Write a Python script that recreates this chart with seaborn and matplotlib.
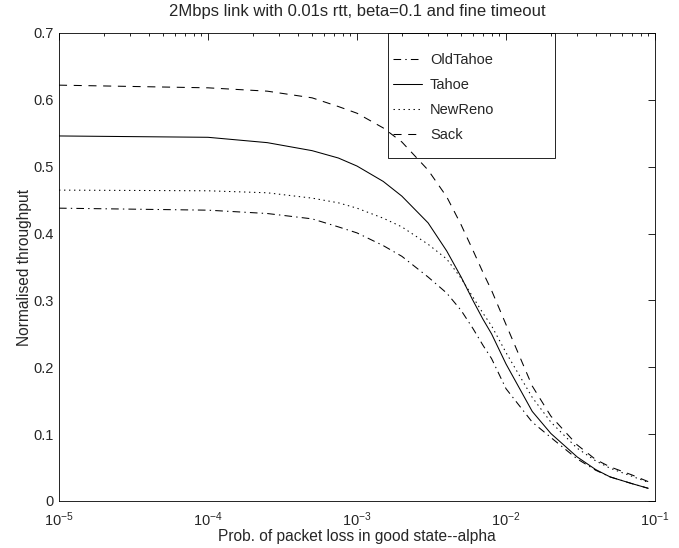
import matplotlib
matplotlib.use("Agg")
import matplotlib.pyplot as plt
from matplotlib.ticker import FuncFormatter, LogLocator, FixedLocator
from matplotlib.patches import Rectangle
import seaborn as sns

# ---- data ----
alpha = [1e-5, 1e-4, 2.5e-4, 5e-4, 7.5e-4, 1e-3, 1.5e-3, 2e-3, 3e-3, 4e-3, 5e-3,
         6e-3, 7e-3, 8e-3, 1e-2, 1.5e-2, 2e-2, 3e-2, 4e-2, 5e-2, 7e-2, 9e-2]
oldtahoe = [0.438, 0.435, 0.430, 0.422, 0.410, 0.401, 0.382, 0.366, 0.335, 0.311, 0.285,
            0.258, 0.233, 0.213, 0.168, 0.118, 0.095, 0.063, 0.046, 0.036, 0.026, 0.019]
tahoe = [0.546, 0.544, 0.536, 0.524, 0.513, 0.501, 0.478, 0.456, 0.416, 0.374, 0.335,
         0.300, 0.272, 0.250, 0.205, 0.134, 0.101, 0.066, 0.047, 0.036, 0.026, 0.019]
newreno = [0.465, 0.464, 0.461, 0.453, 0.446, 0.438, 0.423, 0.410, 0.384, 0.362, 0.333,
           0.305, 0.281, 0.262, 0.222, 0.155, 0.118, 0.079, 0.060, 0.049, 0.037, 0.028]
sack = [0.622, 0.618, 0.613, 0.603, 0.590, 0.580, 0.558, 0.537, 0.495, 0.455, 0.413,
        0.375, 0.342, 0.315, 0.264, 0.172, 0.127, 0.084, 0.062, 0.051, 0.039, 0.029]
series_names = ["OldTahoe", "Tahoe", "NewReno", "Sack"]
yticks = [0, 0.1, 0.2, 0.3, 0.4, 0.5, 0.6, 0.7]
title = "2Mbps link with 0.01s rtt, beta=0.1 and fine timeout"
xlabel = "Prob. of packet loss in good state--alpha"
ylabel = "Normalised throughput"

# ---- style ----
sns.set_style("white")
plt.rcParams["font.family"] = ["Liberation Sans", "DejaVu Sans"]
plt.rcParams["mathtext.fontset"] = "custom"
plt.rcParams["mathtext.rm"] = "Liberation Sans"
plt.rcParams["mathtext.it"] = "Liberation Sans:italic"
plt.rcParams["mathtext.bf"] = "Liberation Sans:bold"
plt.rcParams["lines.scale_dashes"] = False

styles = {
    "OldTahoe": (0, (5.5, 3.0, 1.0, 3.0)),
    "Tahoe": "-",
    "NewReno": (0, (1.0, 2.6)),
    "Sack": (0, (5.8, 4.8)),
}

fig = plt.figure(figsize=(6.79, 5.48), dpi=100)
ax = fig.add_axes([59 / 679, 1 - 501 / 548, 596 / 679, 468 / 548])
ax.set_xscale("log")

data = {"OldTahoe": oldtahoe, "Tahoe": tahoe, "NewReno": newreno, "Sack": sack}
for name in series_names:
    sns.lineplot(x=alpha, y=data[name], ax=ax, color="black", linewidth=0.75,
                 linestyle=styles[name], label=name)

ax.set_xlim(1e-5, 1e-1)
ax.set_ylim(0, 0.7)
ax.yaxis.set_major_locator(FixedLocator(yticks))
ax.yaxis.set_major_formatter(FuncFormatter(lambda v, p: f"{v:g}"))
ax.xaxis.set_major_locator(LogLocator(base=10, numticks=10))
ax.xaxis.set_minor_locator(LogLocator(base=10, subs=range(2, 10), numticks=50))

fs = 10.5
ax.tick_params(which="both", direction="in", top=True, right=True, labelsize=fs,
               width=0.6, color="black")
ax.tick_params(which="major", length=5)
ax.tick_params(which="minor", length=2.5)
ax.tick_params(axis="x", which="major", pad=7)
ax.tick_params(axis="y", which="major", pad=4)
for s in ax.spines.values():
    s.set_linewidth(0.6)
    s.set_color("black")

ax.set_title(title, fontsize=12, pad=12)
ax.set_xlabel(xlabel, fontsize=11.2, labelpad=0)
ax.set_ylabel(ylabel, fontsize=11.2, labelpad=1)

# legend box (unfilled, as in the reference) and legend entries
ax.add_patch(Rectangle((0.552, 0.733), 0.28, 0.267, transform=ax.transAxes,
                       facecolor="none", edgecolor="black", linewidth=0.6,
                       zorder=5, clip_on=False))
leg = ax.legend(loc="upper left", bbox_to_anchor=(0.560, 0.957),
                fontsize=fs, frameon=False, borderaxespad=0, borderpad=0,
                handlelength=2.0, handletextpad=0.55, labelspacing=0.76)

fig.savefig("out.png", dpi=100)
